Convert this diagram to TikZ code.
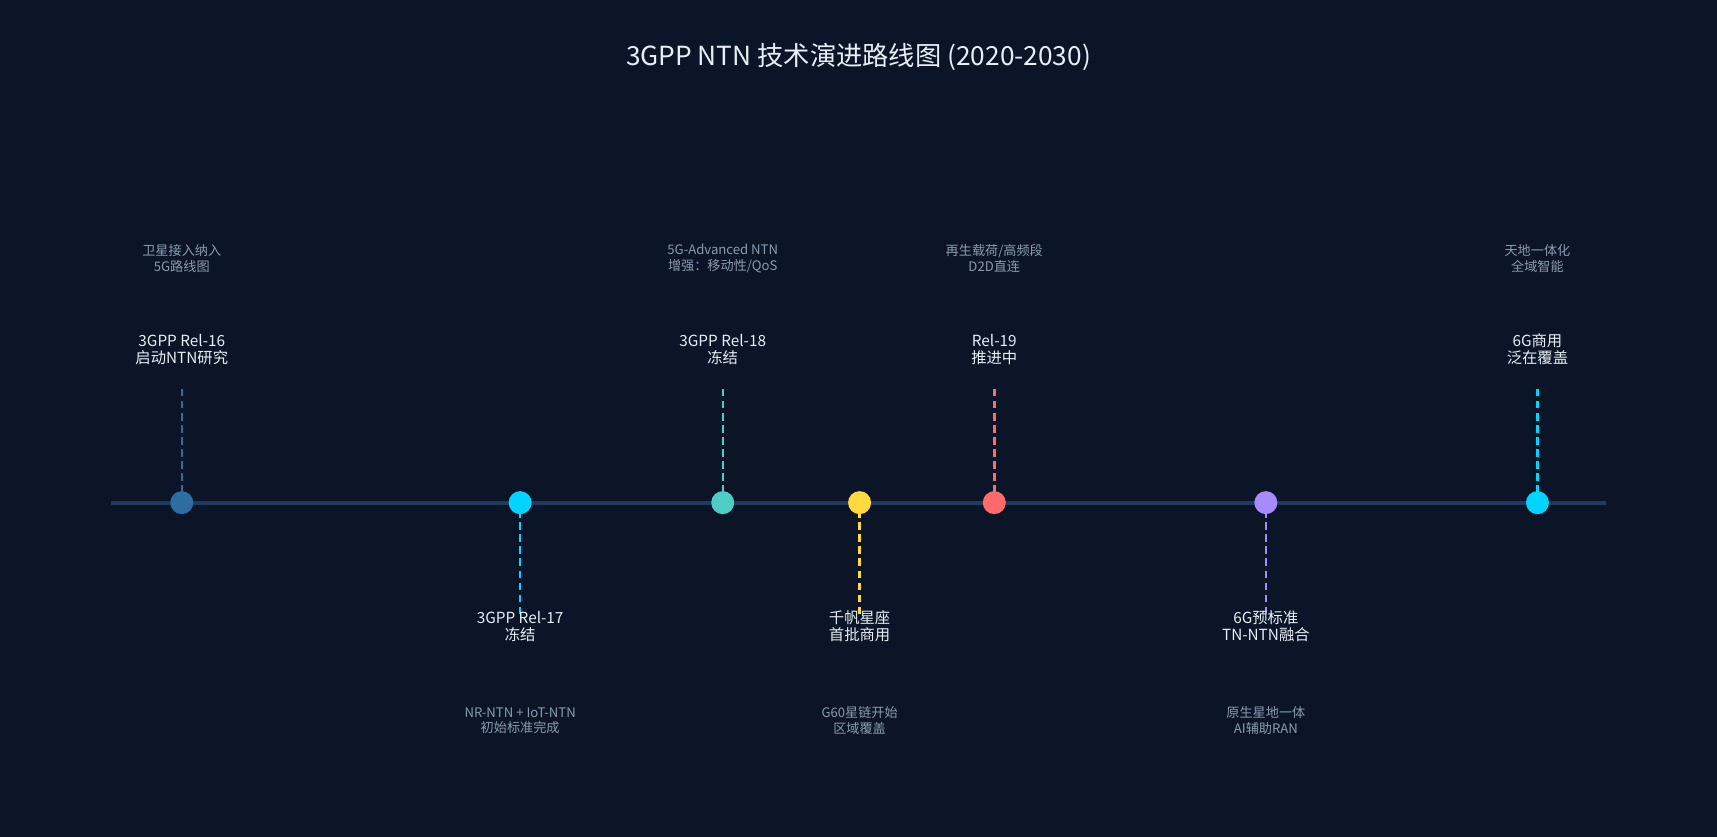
\documentclass[tikz,border=0pt]{standalone}
\usepackage{fontspec}
\setmainfont{Noto Sans CJK SC}
\begin{document}
\begin{tikzpicture}[x=1pt,y=-1pt,
  lab/.style={text=labc,font=\fontsize{14}{16}\selectfont,align=center},
  sub/.style={text=subc,font=\fontsize{12}{14}\selectfont,align=center},
  stem/.style={line width=2.2pt,dash pattern=on 7pt off 4pt},
  dot/.style={circle,inner sep=0pt,minimum size=21pt}]
\definecolor{bg}{HTML}{0B1527}
\definecolor{axis}{HTML}{1E3A5F}
\definecolor{labc}{HTML}{E8EEF5}
\definecolor{subc}{HTML}{8A9BB0}
\definecolor{c1}{HTML}{2E6DA4}
\definecolor{c2}{HTML}{00D4FF}
\definecolor{c3}{HTML}{4ECDC4}
\definecolor{c4}{HTML}{FFD93D}
\definecolor{c5}{HTML}{FF6B6B}
\definecolor{c6}{HTML}{A78BFA}
\fill[bg] (0,0) rectangle (1568,764);
\useasboundingbox (0,0) rectangle (1568,764);
\node[text=labc,font=\fontsize{24}{28}\selectfont] (title) at (784,52) {3GPP NTN 技术演进路线图 (2020-2030)};
\coordinate (L) at (101,459); \coordinate (R) at (1467,459);
\draw[axis,line width=3.5pt] (L) -- (R);
% up items
\foreach \n/\x/\c/\a/\b in {p1/166/c1/{3GPP Rel-16\\启动NTN研究}/{卫星接入纳入\\5G路线图},
  p3/660/c3/{3GPP Rel-18\\冻结}/{5G-Advanced NTN\\增强：移动性/QoS},
  p5/908/c5/{Rel-19\\推进中}/{再生载荷/高频段\\D2D直连},
  p7/1404/c2/{6G商用\\泛在覆盖}/{天地一体化\\全域智能}}{
  \node[lab] (\n l) at (\x,319) {\a};
  \node[sub] (\n s) at (\x,236) {\b};
  \coordinate (\n t) at (\x,355);
  \draw[\c,stem] (\n t) -- (\x,452);
  \node[dot,fill=\c] (\n) at (\x,459) {};
}
\foreach \n/\x/\c/\a/\b in {p2/475/c2/{3GPP Rel-17\\冻结}/{NR-NTN + IoT-NTN\\初始标准完成},
  p4/785/c4/{千帆星座\\首批商用}/{G60星链开始\\区域覆盖},
  p6/1156/c6/{6G预标准\\TN-NTN融合}/{原生星地一体\\AI辅助RAN}}{
  \coordinate (\n t) at (\x,562);
  \draw[\c,stem] (\x,466) -- (\n t);
  \node[dot,fill=\c] (\n) at (\x,459) {};
  \node[lab] (\n l) at (\x,572) {\a};
  \node[sub] (\n s) at (\x,658) {\b};
}
\end{tikzpicture}
\end{document}
